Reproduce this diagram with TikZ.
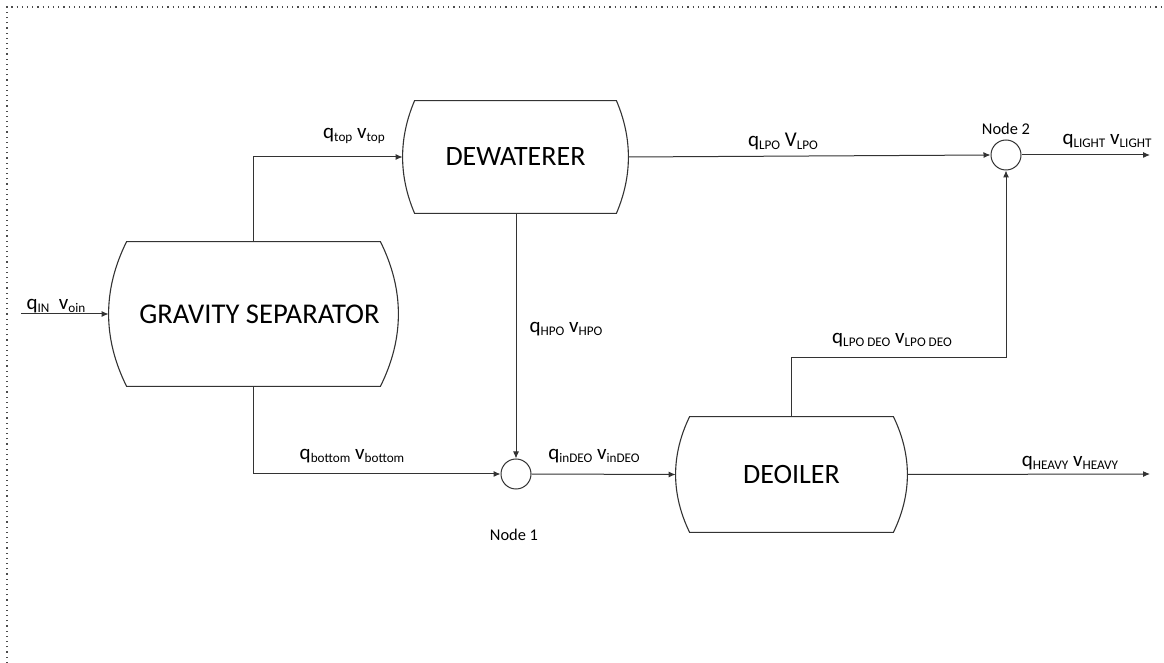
\documentclass[tikz,border=0pt]{standalone}
\usepackage{fontspec}
\setmainfont{Carlito}
\usetikzlibrary{arrows.meta,calc}
\newcommand{\sbx}[1]{\raisebox{-0.3ex}{\fontsize{6.6}{7}\selectfont #1}}
\newcommand{\barrel}[2]{%
  \draw[outline] ([xshift=#2]#1.north west) -- ([xshift=-#2]#1.north east)
    .. controls ($([xshift=-#2]#1.north east)!0.6667!([xshift=#2]#1.east)$)
       and ($([xshift=-#2]#1.south east)!0.6667!([xshift=#2]#1.east)$)
    .. ([xshift=-#2]#1.south east) -- ([xshift=#2]#1.south west)
    .. controls ($([xshift=#2]#1.south west)!0.6667!([xshift=-#2]#1.west)$)
       and ($([xshift=#2]#1.north west)!0.6667!([xshift=-#2]#1.west)$)
    .. cycle;}
\tikzset{
  x=0.5pt, y=-0.5pt,
  vessel/.style={inner sep=0pt, font=\fontsize{14}{16}\selectfont},
  junction/.style={circle, draw=black!80, minimum size=15pt, inner sep=0pt, line width=0.5pt},
  flow/.style={line width=0.5pt, draw=black!80, -{Latex[length=3.5pt,width=3pt]}},
  outline/.style={line width=0.55pt, draw=black!80},
  lbl/.style={font=\fontsize{10.5}{12}\selectfont, inner sep=0pt},
  nlbl/.style={font=\fontsize{8.2}{10}\selectfont, inner sep=0pt},
}
\begin{document}
\begin{tikzpicture}
\useasboundingbox (0,0) rectangle (1164,663);
\draw[dotted, line width=0.6pt, black!70] (7,663) -- (7,7) -- (1164,7);

% vessels
\node[vessel, minimum width=144.5pt, minimum height=72pt] (gs) at (253.5,314) {\fontsize{14.3}{16}\selectfont\hspace*{6pt}GRAVITY SEPARATOR};
\node[vessel, minimum width=112.5pt, minimum height=56pt] (dw) at (515.5,157) {DEWATERER};
\node[vessel, minimum width=115.5pt, minimum height=57.5pt] (deo) at (791.5,474.5) {DEOILER};

\barrel{gs}{9pt}
\barrel{dw}{6pt}
\barrel{deo}{7pt}

% junctions
\node[junction] (n1) at (516,474) {};
\node[junction] (n2) at (1006,155) {};

% free ends
\coordinate (inlet) at (21,314);
\coordinate (light) at (1150,155);
\coordinate (heavy) at (1150,474);

% connectors
\draw[flow] (inlet) -- (gs.west);
\draw[flow] (gs.north) |- (dw.west);
\draw[flow] (gs.south) |- (n1.west);
\draw[flow] (dw.south -| n1.north) -- (n1.north);
\draw[flow] (n1.east) -- (deo.west);
\draw[flow] (dw.east) -- (n2.west);
\draw[flow] (deo.north) -- ++(0,-59) -| (n2.south);
\draw[flow] (n2.east) -- (light);
\draw[flow] (deo.east) -- (heavy);

% labels
\node[lbl] (lin) at (56,306) {q\sbx{IN}\ \ v\sbx{oin}};
\node[lbl] (ltop) at (354,136) {q\sbx{top} v\sbx{top}};
\node[lbl] (llpo) at (783,141) {q\sbx{LPO} V\sbx{LPO}};
\node[lbl] (llight) at (1107,141) {q\sbx{LIGHT} v\sbx{LIGHT}};
\node[lbl] (lhpo) at (566,329) {q\sbx{HPO} v\sbx{HPO}};
\node[lbl] (llpodeo) at (892,340) {q\sbx{LPO DEO} v\sbx{LPO DEO}};
\node[lbl] (lbot) at (352,456) {q\sbx{bottom} v\sbx{bottom}};
\node[lbl] (lindeo) at (594,456) {q\sbx{inDEO} v\sbx{inDEO}};
\node[lbl] (lheavy) at (1070,463) {q\sbx{HEAVY} v\sbx{HEAVY}};
\node[nlbl] (ln1) at (514,535) {Node 1};
\node[nlbl] (ln2) at (1006,129) {Node 2};
\end{tikzpicture}
\end{document}
